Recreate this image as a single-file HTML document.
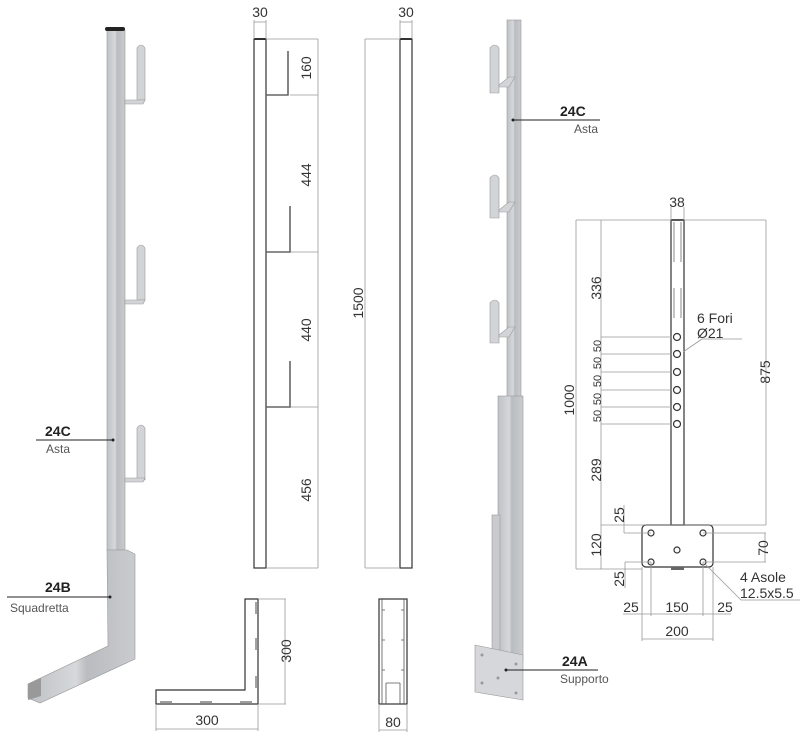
<!DOCTYPE html>
<html><head><meta charset="utf-8"><style>
html,body{margin:0;padding:0;background:#fff}
svg{display:block}
.d{font-family:"Liberation Sans",sans-serif;font-size:14px;fill:#333}
.l{font-family:"Liberation Sans",sans-serif;font-size:14px;fill:#222;font-weight:bold}
.s{font-family:"Liberation Sans",sans-serif;font-size:12px;fill:#555}
.t{stroke:#999;stroke-width:0.8;fill:none}
.k{stroke:#333;stroke-width:1.2;fill:none}
</style></head><body>
<svg width="800" height="737" viewBox="0 0 800 737" xmlns="http://www.w3.org/2000/svg">
<defs>
<linearGradient id="g" x1="0" x2="1"><stop offset="0" stop-color="#bfc2c6"/><stop offset="0.45" stop-color="#d6d8db"/><stop offset="0.55" stop-color="#b9bcc0"/><stop offset="1" stop-color="#c9cbce"/></linearGradient>
</defs>
<!-- LEFT 3D POST -->
<rect x="107" y="30" width="18" height="520" fill="url(#g)" stroke="#999" stroke-width="0.6"/>
<rect x="105" y="27" width="20" height="4" rx="2" fill="#222"/>
<g fill="#d2d4d7" stroke="#999" stroke-width="0.6">
<path d="M137 48 q4 -6 8 0 v52 h-8z"/><path d="M125 100 h20 l-2 4 h-18z"/>
<path d="M137 248 q4 -6 8 0 v52 h-8z"/><path d="M125 300 h20 l-2 4 h-18z"/>
<path d="M137 428 q4 -6 8 0 v52 h-8z"/><path d="M125 478 h20 l-2 4 h-18z"/>
</g>
<path d="M107 550 h20 l8 4 v105 l-95 44 l-12 -5 l0 -14 l80 -38 z" fill="url(#g)" stroke="#999" stroke-width="0.6"/>
<path d="M28 684 l13 -6 v18 l-13 4z" fill="#999"/>
<circle cx="113" cy="440" r="1.5" fill="#222"/><line x1="36" y1="440" x2="113" y2="440" stroke="#222" stroke-width="1"/>
<text x="45" y="436" class="l">24C</text><text x="46" y="453" class="s">Asta</text>
<circle cx="110" cy="597" r="1.5" fill="#222"/><line x1="7" y1="597" x2="110" y2="597" stroke="#222" stroke-width="1"/>
<text x="45" y="592" class="l">24B</text><text x="10" y="612" class="s">Squadretta</text>

<!-- MIDDLE VIEW 1 -->
<rect x="254" y="39" width="12" height="529" class="k"/>
<line x1="254" y1="39" x2="266" y2="39" stroke="#333" stroke-width="2"/>
<line x1="254" y1="20" x2="254" y2="39" class="t"/><line x1="266" y1="20" x2="266" y2="39" class="t"/><line x1="254" y1="22" x2="266" y2="22" class="t"/>
<text x="260" y="17" class="d" text-anchor="middle">30</text>
<g class="t"><line x1="266" y1="39" x2="318" y2="39"/><line x1="290" y1="95" x2="318" y2="95"/><line x1="290" y1="252" x2="318" y2="252"/><line x1="290" y1="407" x2="318" y2="407"/><line x1="266" y1="568" x2="318" y2="568"/><line x1="318" y1="39" x2="318" y2="568"/></g>
<g stroke="#666" stroke-width="1.6" fill="none">
<path d="M288 51 v44 h-22"/><path d="M290 206 v46 h-24"/><path d="M290 361 v46 h-24"/></g>
<g class="d" text-anchor="middle">
<text transform="translate(311,68) rotate(-90)">160</text>
<text transform="translate(311,175) rotate(-90)">444</text>
<text transform="translate(311,330) rotate(-90)">440</text>
<text transform="translate(311,490) rotate(-90)">456</text>
<text transform="translate(363,303) rotate(-90)">1500</text>
</g>
<!-- MIDDLE VIEW 2 -->
<rect x="400" y="39" width="12" height="529" class="k"/>
<line x1="400" y1="39" x2="412" y2="39" stroke="#333" stroke-width="2"/>
<line x1="400" y1="20" x2="400" y2="39" class="t"/><line x1="412" y1="20" x2="412" y2="39" class="t"/><line x1="400" y1="22" x2="412" y2="22" class="t"/>
<text x="406" y="17" class="d" text-anchor="middle">30</text>
<g class="t"><line x1="365" y1="39" x2="400" y2="39"/><line x1="365" y1="568" x2="400" y2="568"/><line x1="365" y1="39" x2="365" y2="568"/></g>

<!-- BOTTOM L -->
<path d="M245 599 h13 v105 h-102 v-14 h89 z" class="k"/>
<g stroke="#666" stroke-width="1.2" fill="none"><path d="M256 602 v12 M256 638 v12 M256 676 v12 M160 702 h12 M200 702 h12 M240 702 h12"/></g>
<g class="t"><line x1="258" y1="599" x2="286" y2="599"/><line x1="258" y1="704" x2="286" y2="704"/><line x1="285" y1="599" x2="285" y2="704"/>
<line x1="156" y1="704" x2="156" y2="731"/><line x1="258" y1="704" x2="258" y2="731"/><line x1="156" y1="729" x2="258" y2="729"/></g>
<text transform="translate(291,651) rotate(-90)" class="d" text-anchor="middle">300</text>
<text x="207" y="725" class="d" text-anchor="middle">300</text>
<rect x="379" y="599" width="28" height="105" class="k"/>
<g stroke="#555" stroke-width="0.8" fill="none"><path d="M382 599 v105 M404 599 v105 M386 683 v21 M400 683 v21 M386 683 h14"/><path d="M382 610 h3 M404 610 h-3 M382 640 h3 M404 640 h-3 M382 670 h3 M404 670 h-3"/></g>
<g class="t"><line x1="379" y1="704" x2="379" y2="732"/><line x1="407" y1="704" x2="407" y2="732"/><line x1="379" y1="730" x2="407" y2="730"/></g>
<text x="393" y="727" class="d" text-anchor="middle">80</text>

<!-- RIGHT 3D POST -->
<rect x="507" y="20" width="14" height="380" fill="url(#g)" stroke="#999" stroke-width="0.6"/>
<rect x="498" y="396" width="25" height="265" fill="url(#g)" stroke="#999" stroke-width="0.6"/>
<rect x="492" y="515" width="8" height="145" fill="#c8cacd" stroke="#999" stroke-width="0.6"/>
<path d="M475 645 l48 10 v45 l-48 -8 z" fill="#d5d7da" stroke="#999" stroke-width="0.6"/>
<g fill="#999"><circle cx="482" cy="655" r="1.5"/><circle cx="482" cy="683" r="1.5"/><circle cx="516" cy="664" r="1.5"/><circle cx="516" cy="693" r="1.5"/><circle cx="498" cy="678" r="1.5"/></g>
<g fill="#d2d4d7" stroke="#999" stroke-width="0.6">
<path d="M490 48 q5 -6 9 0 v45 h-9z"/><path d="M499 85 l10 -8 h6 l-6 10 h-10z"/>
<path d="M490 178 q5 -6 9 0 v40 h-9z"/><path d="M499 210 l10 -8 h6 l-6 10 h-10z"/>
<path d="M490 303 q5 -6 9 0 v40 h-9z"/><path d="M499 335 l10 -8 h6 l-6 10 h-10z"/>
</g>
<circle cx="513" cy="120" r="1.5" fill="#222"/><line x1="513" y1="120" x2="600" y2="120" stroke="#222"/>
<text x="560" y="116" class="l">24C</text><text x="574" y="133" class="s">Asta</text>
<circle cx="506" cy="670" r="1.5" fill="#222"/><line x1="506" y1="670" x2="598" y2="670" stroke="#222"/>
<text x="562" y="666" class="l">24A</text><text x="560" y="683" class="s">Supporto</text>

<!-- RIGHT TECH DRAWING -->
<rect x="671" y="220" width="13" height="305" class="k"/>
<line x1="671" y1="220" x2="684" y2="220" stroke="#333" stroke-width="2"/>
<path d="M674 222 v40 M681 222 v40 M674 288 v30 M681 288 v30" stroke="#888" stroke-width="1"/>
<rect x="642" y="525" width="71" height="42" rx="4" class="k"/>
<rect x="671" y="567" width="13" height="3" fill="#666"/>
<g class="k" stroke-width="1"><circle cx="677" cy="337" r="3.5"/><circle cx="677" cy="354" r="3.5"/><circle cx="677" cy="372" r="3.5"/><circle cx="677" cy="390" r="3.5"/><circle cx="677" cy="407" r="3.5"/><circle cx="677" cy="424" r="3.5"/>
<circle cx="651" cy="533" r="3"/><circle cx="703" cy="533" r="3"/><circle cx="677" cy="550" r="3"/><circle cx="651" cy="562" r="3"/><circle cx="703" cy="562" r="3"/></g>
<g class="t">
<line x1="671" y1="207" x2="671" y2="220"/><line x1="684" y1="207" x2="684" y2="220"/>
<line x1="576" y1="220" x2="766" y2="220"/><line x1="576" y1="220" x2="576" y2="569"/><line x1="601" y1="220" x2="601" y2="569"/><line x1="576" y1="569" x2="642" y2="569"/>
<line x1="766" y1="220" x2="766" y2="525"/><line x1="601" y1="525" x2="766" y2="525"/>
<line x1="601" y1="337" x2="672" y2="337"/><line x1="601" y1="354" x2="672" y2="354"/><line x1="601" y1="372" x2="672" y2="372"/><line x1="601" y1="390" x2="672" y2="390"/><line x1="601" y1="407" x2="672" y2="407"/><line x1="601" y1="424" x2="672" y2="424"/>
<line x1="683" y1="352" x2="702" y2="339"/><line x1="702" y1="339" x2="742" y2="339"/>
<line x1="624" y1="505" x2="624" y2="533"/><line x1="624" y1="533" x2="651" y2="533"/>
<line x1="625" y1="562" x2="625" y2="588"/><line x1="625" y1="562" x2="651" y2="562"/>
<line x1="703" y1="533" x2="766" y2="533"/><line x1="703" y1="562" x2="766" y2="562"/><line x1="765" y1="533" x2="765" y2="562"/>
<line x1="705" y1="564" x2="741" y2="600"/><line x1="741" y1="600" x2="800" y2="600"/>
<line x1="651" y1="562" x2="651" y2="616"/><line x1="703" y1="562" x2="703" y2="616"/>
<line x1="623" y1="614" x2="731" y2="614"/>
<line x1="642" y1="567" x2="642" y2="641"/><line x1="713" y1="567" x2="713" y2="641"/><line x1="642" y1="639" x2="713" y2="639"/>
</g>
<g class="d" font-size="12" text-anchor="middle">
<text x="677" y="207">38</text>
<text transform="translate(601,288) rotate(-90)">336</text>
<text transform="translate(601,346) rotate(-90)" font-size="11">50</text>
<text transform="translate(601,363) rotate(-90)" font-size="11">50</text>
<text transform="translate(601,381) rotate(-90)" font-size="11">50</text>
<text transform="translate(601,399) rotate(-90)" font-size="11">50</text>
<text transform="translate(601,416) rotate(-90)" font-size="11">50</text>
<text transform="translate(601,470) rotate(-90)">289</text>
<text transform="translate(601,545) rotate(-90)">120</text>
<text transform="translate(574,400) rotate(-90)">1000</text>
<text transform="translate(770,372) rotate(-90)">875</text>
<text transform="translate(624,515) rotate(-90)">25</text>
<text transform="translate(624,579) rotate(-90)">25</text>
<text transform="translate(768,548) rotate(-90)">70</text>
<text x="631" y="612">25</text><text x="677" y="612">150</text><text x="725" y="612">25</text>
<text x="677" y="636">200</text>
</g>
<text x="697" y="323" class="d" font-size="12">6 Fori</text>
<text x="697" y="338" class="d" font-size="12">Ø21</text>
<text x="740" y="582" class="d" font-size="12">4 Asole</text>
<text x="740" y="598" class="d" font-size="12">12.5x5.5</text>
</svg>
</body></html>
